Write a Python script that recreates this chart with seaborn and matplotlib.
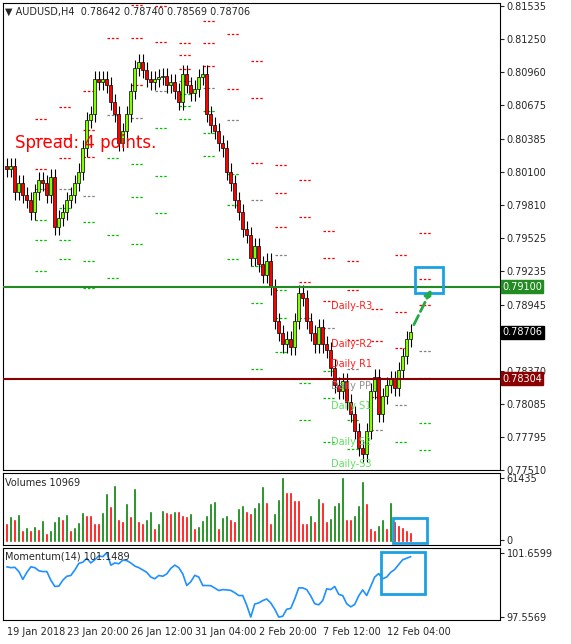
import matplotlib
matplotlib.use("Agg")
import matplotlib.pyplot as plt
from matplotlib.patches import Rectangle
import numpy as np
import seaborn as sns

sns.set_style("white")
plt.rcParams['font.family'] = ['Tahoma', 'DejaVu Sans']

# cierres H4 AUDUSD
closes = [0.8012, 0.8015, 0.7992, 0.8000, 0.7990, 0.7985,
          0.7975, 0.7992, 0.8003, 0.8000, 0.7990, 0.8005,
          0.7962, 0.7970, 0.7975, 0.7985, 0.7990, 0.8000,
          0.8010, 0.8030, 0.8055, 0.8060, 0.8090, 0.8088,
          0.8090, 0.8085, 0.8070, 0.8060, 0.8035, 0.8045,
          0.8060, 0.8080, 0.8100, 0.8105, 0.8098, 0.8090,
          0.8088, 0.8090, 0.8092, 0.8093, 0.8085, 0.8088,
          0.8080, 0.8070, 0.8095, 0.8085, 0.8078, 0.8082,
          0.8092, 0.8095, 0.8060, 0.8050, 0.8045, 0.8035,
          0.8030, 0.8010, 0.8000, 0.7985, 0.7975, 0.7960,
          0.7955, 0.7935, 0.7945, 0.7930, 0.7920, 0.7932,
          0.7910, 0.7880, 0.7870, 0.7860, 0.7865, 0.7858,
          0.7880, 0.7905, 0.7900, 0.7880, 0.7870, 0.7860,
          0.7875, 0.7860, 0.7855, 0.7840, 0.7825, 0.7820,
          0.7828, 0.7810, 0.7800, 0.7785, 0.7770, 0.7765,
          0.7785, 0.7820, 0.7832, 0.7800, 0.7815, 0.7825,
          0.7830, 0.7822, 0.7838, 0.7850, 0.7865, 0.78706]

volumes_k = [18, 25, 22, 27, 12, 15, 12, 16, 13, 21,
             9, 12, 20, 25, 22, 27, 12, 15, 19, 29,
             26, 26, 18, 18, 29, 47, 35, 55, 22, 20,
             37, 25, 52, 20, 18, 22, 30, 14, 18, 31,
             29, 28, 30, 30, 26, 25, 28, 14, 16, 21,
             26, 37, 39, 14, 24, 26, 22, 20, 33, 36,
             30, 28, 34, 38, 54, 38, 18, 28, 41, 62,
             48, 48, 40, 40, 18, 18, 26, 20, 42, 38,
             20, 23, 36, 38, 62, 22, 22, 26, 36, 58,
             37, 14, 12, 17, 22, 14, 38, 20, 17, 15, 12, 10]

momentum = [100.75, 100.70, 100.72, 100.45, 99.95, 100.40, 100.75, 100.70, 100.50, 100.45,
            100.45, 99.90, 99.50, 99.52, 99.90, 100.15, 100.20, 100.55, 100.97, 101.05,
            101.29, 101.00, 101.20, 101.45, 101.40, 101.66, 100.86, 101.00, 100.95, 101.18,
            101.15, 101.00, 100.80, 100.70, 100.55, 100.40, 100.10, 99.99, 100.20, 100.15,
            100.30, 100.65, 100.86, 100.70, 100.30, 99.56, 99.80, 100.21, 100.10, 99.56,
            99.56, 99.55, 99.40, 99.24, 99.30, 99.28, 99.25, 99.10, 98.92, 98.92,
            98.30, 97.55, 98.38, 98.45, 98.60, 98.70, 98.45, 98.05, 97.55, 97.60,
            98.05, 98.10, 98.70, 99.41, 99.41, 99.30, 98.90, 98.40, 98.33, 98.60,
            99.35, 99.30, 99.50, 99.00, 98.92, 98.40, 98.20, 98.35, 98.90, 99.28,
            98.92, 99.50, 100.10, 100.32, 99.99, 100.10, 100.40, 100.58, 100.90, 101.20,
            101.30, 101.40]

price_ticks = [0.81535, 0.81250, 0.80960, 0.80675, 0.80385, 0.80100, 0.79810,
               0.79525, 0.79235, 0.78945, 0.78370, 0.78085, 0.77795, 0.77510]
date_idx = [0, 15, 31, 47, 63, 79, 95]
date_labels = ["19 Jan 2018", "23 Jan 20:00", "26 Jan 12:00", "31 Jan 04:00",
               "2 Feb 20:00", "7 Feb 12:00", "12 Feb 04:00"]
green_level = 0.79100
red_level = 0.78304

n = len(closes)
x = np.arange(n)
opens = [closes[0] + 0.0003] + closes[:-1]
wick = 0.0007
highs = [max(o, c) + wick for o, c in zip(opens, closes)]
lows = [min(o, c) - wick for o, c in zip(opens, closes)]

fig = plt.figure(figsize=(5.71, 6.44), dpi=100)
ax = fig.add_axes([0.005, 0.270, 0.870, 0.725])
axv = fig.add_axes([0.005, 0.1537, 0.870, 0.1118])
axm = fig.add_axes([0.005, 0.037, 0.870, 0.112])
xlim = (-1, 123.25)

# velas
for i in x:
    o, c = opens[i], closes[i]
    col = "#7fff00" if c >= o else "#ff0000"
    ax.vlines(i, lows[i], highs[i], color="black", lw=0.8, zorder=3)
    ax.add_patch(Rectangle((i - 0.35, min(o, c)), 0.7, max(abs(c - o), 0.00004),
                           facecolor=col, edgecolor="black", lw=0.5, zorder=4))

# pivotes diarios (6 velas por día)
for d in range(1, int(np.ceil(n / 6)) + 1):
    prev = slice((d - 1) * 6, d * 6)
    H, L, C = max(highs[prev]), min(lows[prev]), closes[prev][-1]
    pp = (H + L + C) / 3
    lv = {"r1": 2 * pp - L, "r2": pp + H - L, "r3": H + 2 * (pp - L),
          "s1": 2 * pp - H, "s2": pp - (H - L), "s3": L - 2 * (H - pp), "pp": pp}
    x0 = d * 6 + 1
    for k, v in lv.items():
        col = "#ff0000" if k[0] == "r" else ("#00c000" if k[0] == "s" else "#808080")
        ax.hlines(v, x0, x0 + 3, color=col, lw=0.9, linestyles=(0, (2, 1.5)), zorder=2)

ax.axhline(green_level, color="#228b22", lw=1.5, zorder=5)
ax.axhline(red_level, color="#8b0000", lw=1.5, zorder=5)

for txt, y, col in [("Daily-R3", 0.7893, "#ff2020"), ("Daily-R2", 0.7860, "#ff2020"),
                    ("Daily R1", 0.7843, "#ff2020"), ("Daily PP", 0.7824, "#909090"),
                    ("Daily S1", 0.7807, "#60e060"), ("Daily S2", 0.7775, "#60e060"),
                    ("Daily-S3", 0.7756, "#60e060")]:
    ax.text(81, y, txt, color=col, fontsize=7, va="center", zorder=6)

ax.text(2, 0.8035, "Spread: 4 points.", color="#ff0000", fontsize=12, va="center", zorder=6)
ax.text(0.005, 0.992, "\u25bc AUDUSD,H4  0.78642 0.78740 0.78569 0.78706",
        transform=ax.transAxes, fontsize=7, va="top")

# recuadro y flecha
ax.add_patch(Rectangle((102, 0.7905), 7, 0.0022, fill=False, edgecolor="#1ba1e2", lw=2, zorder=7))
ax.annotate("", xy=(106.5, 0.7910), xytext=(101.5, 0.7875),
            arrowprops=dict(arrowstyle="-|>", color="#22aa44", lw=2, linestyle="--"), zorder=7)

ax.set_xlim(*xlim)
ax.set_ylim(0.77510, 0.81560)
ax.yaxis.tick_right()
ax.set_yticks(price_ticks)
ax.set_yticklabels([f"{t:.5f}" for t in price_ticks], fontsize=7)
ax.set_xticks([])
for val, fc, tc in [(green_level, "#228b22", "white"), (red_level, "#8b0000", "white"),
                    (closes[-1], "black", "white")]:
    ax.text(1.005, val, f"{val:.5f}", transform=ax.get_yaxis_transform(), fontsize=7,
            color=tc, va="center", bbox=dict(boxstyle="square,pad=0.15", fc=fc, ec=fc))

# volúmenes
vols = [v * 1000 for v in volumes_k]
vcols = ["#008000" if i > 0 and vols[i] > vols[i - 1] else "#ff0000" for i in range(n)]
axv.bar(x, vols, width=0.75, color=vcols)
axv.set_xlim(*xlim)
axv.set_ylim(-2500, 66000)
axv.yaxis.tick_right()
axv.set_yticks([2500, 61435])
axv.set_yticklabels(["0", "61435"], fontsize=7)
axv.set_xticks([])
axv.text(0.005, 0.93, "Volumes 10969", transform=axv.transAxes, fontsize=7, va="top")
axv.add_patch(Rectangle((96.5, -1000), 8.5, 24000, fill=False, edgecolor="#1ba1e2",
                        lw=2, clip_on=False, zorder=7))

# momentum
sns.lineplot(x=x, y=momentum, ax=axm, color="#1e90ff", lw=1.2)
axm.set_xlim(*xlim)
axm.set_ylim(97.35, 101.95)
axm.yaxis.tick_right()
axm.set_yticks([97.5569, 101.6599])
axm.set_yticklabels(["97.5569", "101.6599"], fontsize=7)
axm.set_xticks(date_idx)
axm.set_xticklabels(date_labels, fontsize=7, ha="left")
axm.tick_params(axis="x", length=3, pad=2)
axm.text(0.005, 0.95, "Momentum(14) 101.1489", transform=axm.transAxes, fontsize=7, va="top")
axm.add_patch(Rectangle((93.5, 99.0), 11, 2.7, fill=False, edgecolor="#1ba1e2",
                        lw=2, clip_on=False, zorder=7))

for a in (ax, axv, axm):
    a.tick_params(axis="y", length=3, pad=2)
    for s in a.spines.values():
        s.set_color("black")
        s.set_linewidth(0.8)

fig.savefig("out.png", dpi=100)
